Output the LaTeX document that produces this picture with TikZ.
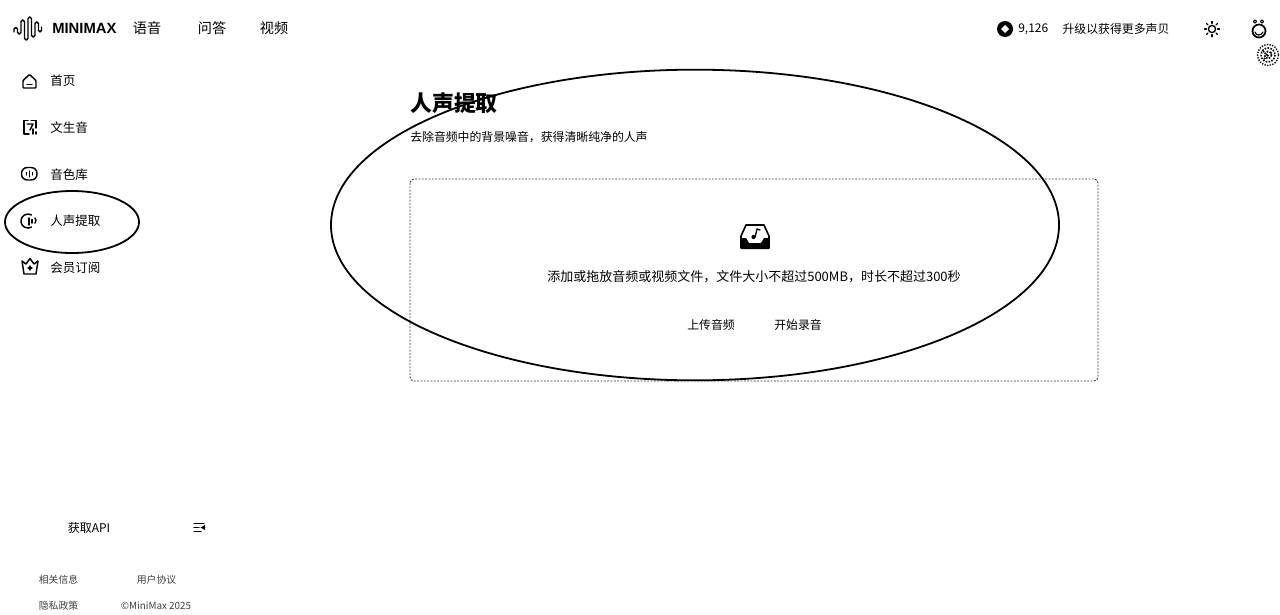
\documentclass[tikz,border=0pt]{standalone}
\usepackage{fontspec}
\setmainfont{Noto Sans CJK SC}
\newfontfamily\latinbold{Liberation Sans}[BoldFont={Liberation Sans Bold}]
\usetikzlibrary{shapes.geometric}
\tikzset{
  x=0.75pt,y=-0.75pt,
  txt/.style={inner sep=0pt,anchor=center,text=black},
  nav/.style={txt,font=\fontsize{10.6pt}{12pt}\selectfont},
  side/.style={txt,anchor=west,font=\fontsize{9.4pt}{11pt}\selectfont},
  foot/.style={txt,font=\fontsize{7.4pt}{9pt}\selectfont,text=black!75},
  icon/.style={draw=black,line width=1.1pt,line join=round,line cap=round},
  ringmark/.style={draw=black,line width=1.35pt,ellipse,inner sep=0pt},
}
\begin{document}
\begin{tikzpicture}
\useasboundingbox (0,0) rectangle (1280,614);
\fill[white] (0,0) rectangle (1280,614);

% logo
\draw[icon,line width=1pt,rounded corners=1.2pt] (14,32) -- (14,27.5) -- (17.5,27.5) -- (17.5,34) -- (21,34) -- (21,20) -- (24.5,20) -- (24.5,40) -- (28,40) -- (28,17) -- (31.5,17) -- (31.5,37) -- (35,37) -- (35,22) -- (38.5,22) -- (38.5,32) -- (41.5,32) -- (41.5,27);
\node[txt,anchor=west,font=\latinbold\bfseries\fontsize{11.1pt}{13pt}\selectfont] (brand) at (52,28) {MINIMAX};
\node[nav] (n1) at (147,28) {语音};
\node[nav] (n2) at (212,28) {问答};
\node[nav] (n3) at (274,28) {视频};

% top right
\fill[black] (1005,29) circle (8);
\fill[white] (1005,25) -- (1009,29) -- (1005,33) -- (1001,29) -- cycle;
\node[txt,anchor=west,font=\fontsize{9pt}{11pt}\selectfont] (credits) at (1018,29.5) {9,126};
\node[txt,font=\fontsize{8.9pt}{11pt}\selectfont] (upgrade) at (1116,29.5) {升级以获得更多声贝};
\draw[icon,line width=1pt] (1212,29) circle (3.6);
\foreach \a in {0,45,...,315} \draw[icon,line width=0.9pt] (1212,29) ++(\a:5.6) -- ++(\a:2);
\draw[icon,line width=1.3pt] (1259,31) circle (6.5);
\draw[icon,line width=0.8pt] (1255,21.5) circle (1.6) (1262,21.5) circle (1.6);
\draw[icon,line width=0.9pt] (1255,32) .. controls (1256,36) and (1261,36) .. (1263,32);
\draw[black,line width=1pt,densely dotted] (1268,55) circle (10.5);
\draw[black,line width=1.2pt,densely dotted] (1268,55) circle (7);
\draw[black,line width=1.2pt,densely dotted] (1268,55) circle (3.5);
\draw[black,line width=1.2pt,dotted] (1264,59) -- (1272,52) (1263,51) -- (1269,57);

% sidebar icons
\draw[icon,rounded corners=0.7pt] (23,80.5) -- (29.5,74.5) -- (36,80.5) -- (36,88) -- (23,88) -- cycle;
\draw[icon] (27,84.5) -- (32,84.5);
\draw[icon] (28,120.5) -- (24,120.5) -- (24,134) -- (29,134) (31,120.5) -- (36,120.5) -- (36,128);
\draw[icon] (27,124) -- (33,124) -- (30,130);
\draw[icon] (33,129) -- (33,134) (36,132) -- (36,134);
\draw[icon,rounded corners=4.4pt] (21.5,167.5) rectangle (37,180);
\draw[icon] (26.5,172.5) -- (26.5,175) (29.5,171) -- (29.5,177) (32.5,172.5) -- (32.5,175);
\draw[icon] (31.5,215) arc (-60:-300:7);
\draw[icon] (29,218) -- (29,225) (32,219.5) -- (32,223);
\draw[icon] (35,218) arc (-40:40:4);
\draw[icon] (22,261) -- (26,264) -- (30,258.5) -- (34,264) -- (38,261) -- (36,274) -- (24,274) -- cycle;
\draw[icon,line width=0.8pt] (28,268) -- (32,268) (30,266) -- (30,270);

% sidebar labels
\node[side] (s1) at (50,80.7) {首页};
\node[side] (s2) at (50,127.7) {文生音};
\node[side] (s3) at (50,174.3) {音色库};
\node[side] (s4) at (50,220.7) {人声提取};
\node[side] (s5) at (50,267.7) {会员订阅};

% sidebar footer
\node[txt,font=\fontsize{9pt}{11pt}\selectfont] (api) at (89,527.7) {获取API};
\draw[icon,line width=0.9pt] (194,523.5) -- (204,523.5) (194,527.5) -- (199,527.5) (194,531.5) -- (201,531.5);
\fill[black] (200.5,527.5) -- (205,525) -- (205,530) -- cycle;
\node[foot] (f1) at (58.5,580) {相关信息};
\node[foot] (f2) at (156.5,580) {用户协议};
\node[foot] (f3) at (58.5,605.5) {隐私政策};
\node[foot] (f4) at (156,605.5) {©MiniMax 2025};

% main
\node[txt,anchor=west,font=\bfseries\fontsize{16.4pt}{19pt}\selectfont] (title) at (410,103) {人声提取};
\node[txt,anchor=west,font=\fontsize{8.9pt}{11pt}\selectfont] (sub) at (410,136.7) {去除音频中的背景噪音，获得清晰纯净的人声};
\draw[black!80,line width=0.7pt,dash pattern=on 1.4pt off 1.1pt,rounded corners=3pt] (410,179) rectangle (1098,381);

% upload icon
\draw[icon,line width=1.2pt] (741,236) -- (746,225) -- (764,225) -- (769,236) -- (769,248) -- (741,248) -- cycle;
\fill[black] (741,238) -- (746,238) -- (749,243) -- (761,243) -- (764,238) -- (769,238) -- (769,249) -- (741,249) -- cycle;
\draw[icon,line width=1pt] (755,237) -- (757,229) -- (760,230);
\fill[black] (753.5,237) circle (2.1);
\node[txt,font=\fontsize{9.75pt}{12pt}\selectfont] (hint) at (754,276.7) {添加或拖放音频或视频文件，文件大小不超过500MB，时长不超过300秒};
\node[txt,font=\fontsize{8.9pt}{11pt}\selectfont] (up) at (711,325) {上传音频};
\node[txt,font=\fontsize{8.9pt}{11pt}\selectfont] (rec) at (798,325) {开始录音};

% annotation ellipses
\node[ringmark,minimum width=100.5pt,minimum height=46.5pt] (small) at (72,222) {};
\node[ringmark,minimum width=546pt,minimum height=233pt] (big) at (695,225) {};
\end{tikzpicture}
\end{document}
